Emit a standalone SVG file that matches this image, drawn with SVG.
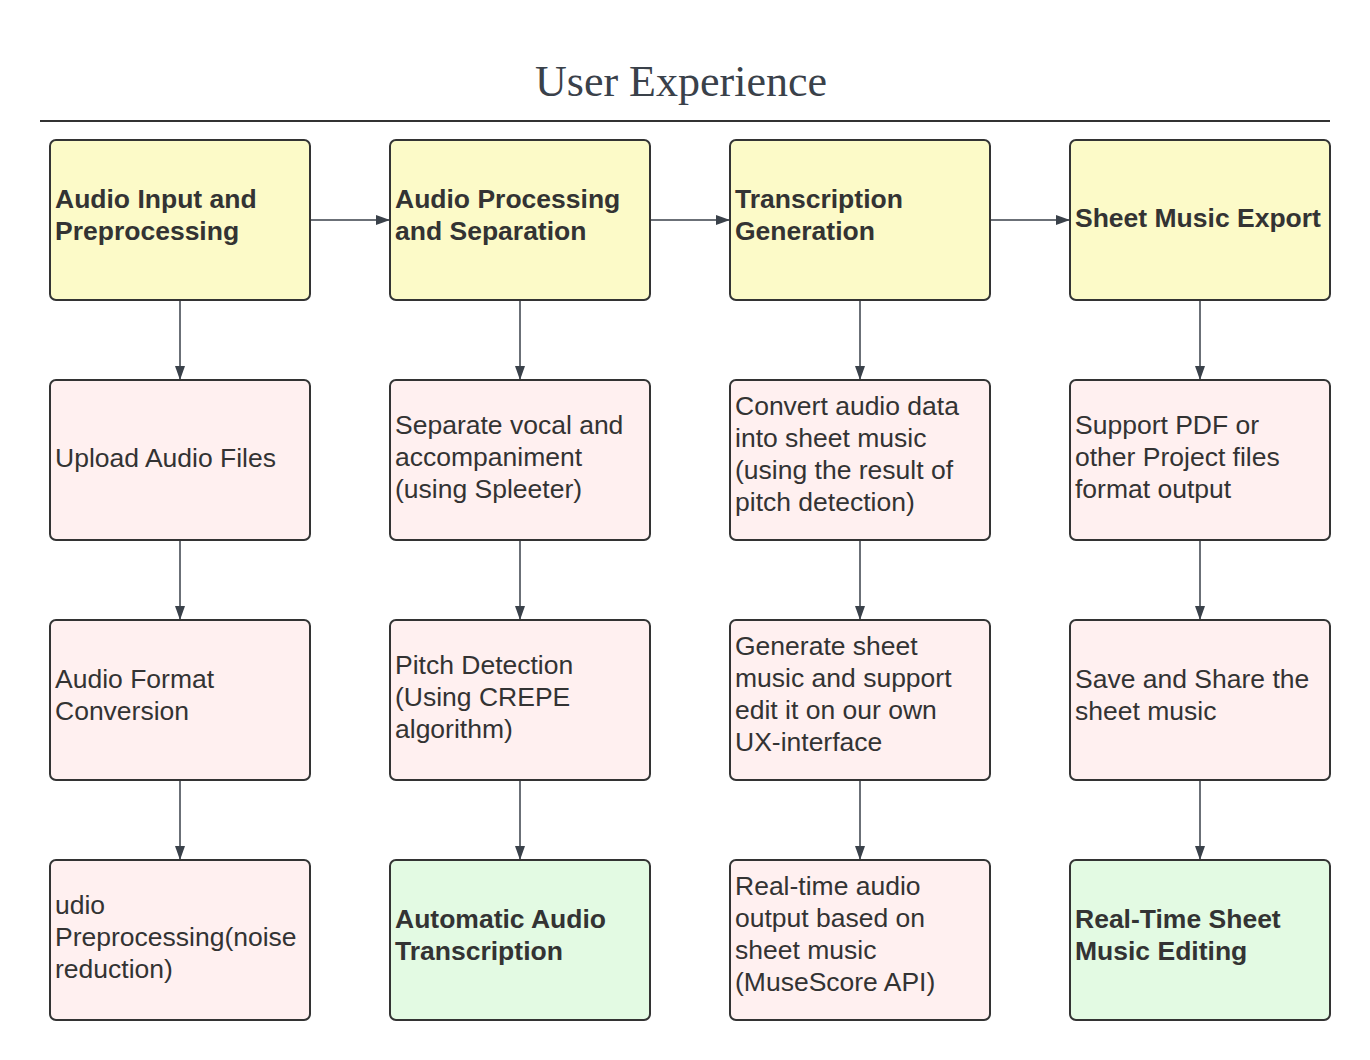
<svg xmlns="http://www.w3.org/2000/svg" width="1370" height="1060" viewBox="0 0 1370 1060">
<defs>
<style>
.box{stroke:#333333;stroke-width:2}
.y{fill:#fcfac8}
.p{fill:#fff0f0}
.g{fill:#e3fae3}
.t{font-family:"Liberation Sans",Arial,sans-serif;font-size:26.5px;fill:#333333}
.b{font-weight:bold}
.c{stroke:#3a414a;stroke-width:1.5;fill:none;marker-end:url(#ah)}
</style>
<marker id="ah" viewBox="0 0 14 10" refX="14" refY="5" markerWidth="14" markerHeight="10" markerUnits="userSpaceOnUse" orient="auto">
<path d="M0,0 L14,5 L0,10 Z" fill="#3a414a"/>
</marker>
</defs>
<rect width="1370" height="1060" fill="#ffffff"/>
<text x="681" y="96" text-anchor="middle" font-family="'Liberation Serif','Times New Roman',serif" font-size="44" fill="#3a414a">User Experience</text>
<line x1="40" y1="121" x2="1330" y2="121" stroke="#333333" stroke-width="2"/>

<g id="connectors">
<path class="c" d="M310,220 H390"/>
<path class="c" d="M650,220 H730"/>
<path class="c" d="M990,220 H1070"/>
<path class="c" d="M180,300 V380"/>
<path class="c" d="M180,540 V620"/>
<path class="c" d="M180,780 V860"/>
<path class="c" d="M520,300 V380"/>
<path class="c" d="M520,540 V620"/>
<path class="c" d="M520,780 V860"/>
<path class="c" d="M860,300 V380"/>
<path class="c" d="M860,540 V620"/>
<path class="c" d="M860,780 V860"/>
<path class="c" d="M1200,300 V380"/>
<path class="c" d="M1200,540 V620"/>
<path class="c" d="M1200,780 V860"/>
</g>

<g id="n1"><rect class="box y" x="50" y="140" width="260" height="160" rx="6"/>
<text class="t b" x="55"><tspan x="55" y="208">Audio Input and</tspan><tspan x="55" y="240">Preprocessing</tspan></text></g>
<g id="n2"><rect class="box y" x="390" y="140" width="260" height="160" rx="6"/>
<text class="t b"><tspan x="395" y="208">Audio Processing</tspan><tspan x="395" y="240">and Separation</tspan></text></g>
<g id="n3"><rect class="box y" x="730" y="140" width="260" height="160" rx="6"/>
<text class="t b"><tspan x="735" y="208">Transcription</tspan><tspan x="735" y="240">Generation</tspan></text></g>
<g id="n4"><rect class="box y" x="1070" y="140" width="260" height="160" rx="6"/>
<text class="t b"><tspan x="1075" y="227">Sheet Music Export</tspan></text></g>

<g id="n5"><rect class="box p" x="50" y="380" width="260" height="160" rx="6"/>
<text class="t"><tspan x="55" y="467">Upload Audio Files</tspan></text></g>
<g id="n6"><rect class="box p" x="390" y="380" width="260" height="160" rx="6"/>
<text class="t"><tspan x="395" y="434">Separate vocal and</tspan><tspan x="395" y="466">accompaniment</tspan><tspan x="395" y="498">(using Spleeter)</tspan></text></g>
<g id="n7"><rect class="box p" x="730" y="380" width="260" height="160" rx="6"/>
<text class="t"><tspan x="735" y="415">Convert audio data</tspan><tspan x="735" y="447">into sheet music</tspan><tspan x="735" y="479">(using the result of</tspan><tspan x="735" y="511">pitch detection)</tspan></text></g>
<g id="n8"><rect class="box p" x="1070" y="380" width="260" height="160" rx="6"/>
<text class="t"><tspan x="1075" y="434">Support PDF or</tspan><tspan x="1075" y="466">other Project files</tspan><tspan x="1075" y="498">format output</tspan></text></g>

<g id="n9"><rect class="box p" x="50" y="620" width="260" height="160" rx="6"/>
<text class="t"><tspan x="55" y="688">Audio Format</tspan><tspan x="55" y="720">Conversion</tspan></text></g>
<g id="n10"><rect class="box p" x="390" y="620" width="260" height="160" rx="6"/>
<text class="t"><tspan x="395" y="674">Pitch Detection</tspan><tspan x="395" y="706">(Using CREPE</tspan><tspan x="395" y="738">algorithm)</tspan></text></g>
<g id="n11"><rect class="box p" x="730" y="620" width="260" height="160" rx="6"/>
<text class="t"><tspan x="735" y="655">Generate sheet</tspan><tspan x="735" y="687">music and support</tspan><tspan x="735" y="719">edit it on our own</tspan><tspan x="735" y="751">UX-interface</tspan></text></g>
<g id="n12"><rect class="box p" x="1070" y="620" width="260" height="160" rx="6"/>
<text class="t"><tspan x="1075" y="688">Save and Share the</tspan><tspan x="1075" y="720">sheet music</tspan></text></g>

<g id="n13"><rect class="box p" x="50" y="860" width="260" height="160" rx="6"/>
<text class="t"><tspan x="55" y="914">udio</tspan><tspan x="55" y="946">Preprocessing(noise</tspan><tspan x="55" y="978">reduction)</tspan></text></g>
<g id="n14"><rect class="box g" x="390" y="860" width="260" height="160" rx="6"/>
<text class="t b"><tspan x="395" y="928">Automatic Audio</tspan><tspan x="395" y="960">Transcription</tspan></text></g>
<g id="n15"><rect class="box p" x="730" y="860" width="260" height="160" rx="6"/>
<text class="t"><tspan x="735" y="895">Real-time audio</tspan><tspan x="735" y="927">output based on</tspan><tspan x="735" y="959">sheet music</tspan><tspan x="735" y="991">(MuseScore API)</tspan></text></g>
<g id="n16"><rect class="box g" x="1070" y="860" width="260" height="160" rx="6"/>
<text class="t b"><tspan x="1075" y="928">Real-Time Sheet</tspan><tspan x="1075" y="960">Music Editing</tspan></text></g>
</svg>
